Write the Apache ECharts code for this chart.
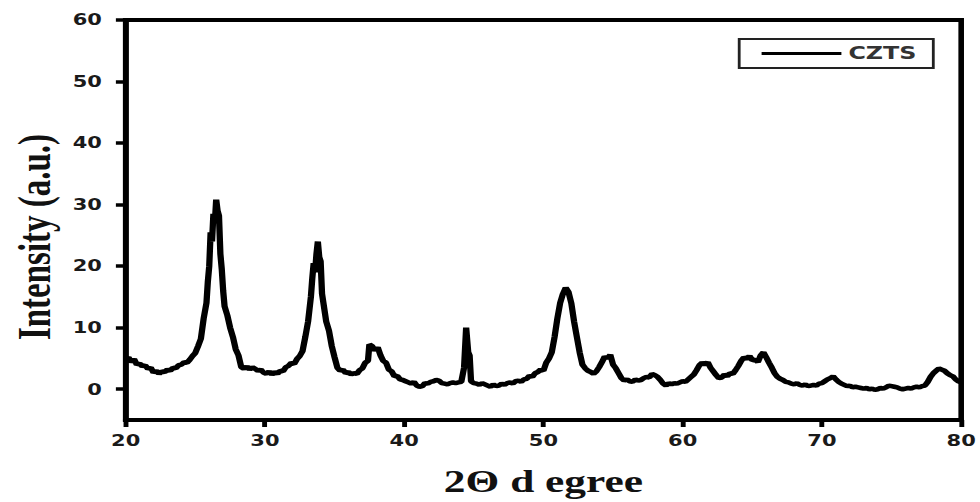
<!DOCTYPE html>
<html>
<head>
<meta charset="utf-8">
<script src="https://cdn.jsdelivr.net/npm/echarts@6/dist/echarts.min.js"></script>
<style>
  html, body { margin: 0; padding: 0; background: #fff; overflow: hidden; }
  #wrap { width: 980px; height: 502px; overflow: hidden; }
  #chart { width: 700px; height: 502px; transform: scaleX(1.4); transform-origin: 0 0; }
</style>
</head>
<body>
<div id="wrap"><div id="chart"></div></div>
<script>
// 2-theta positions (degrees)
const twoTheta = [
  20.0,20.2,20.4,20.6,20.8,21.0,21.2,21.4,21.6,21.8,
  22.0,22.2,22.4,22.6,22.8,23.0,23.2,23.4,23.6,23.8,
  24.0,24.2,24.4,24.6,24.8,25.0,25.2,25.4,25.6,25.8,
  25.9,26.0,26.1,26.2,26.3,26.4,26.5,26.6,26.7,26.8,
  26.9,27.0,27.1,27.3,27.5,27.7,27.9,28.1,28.3,28.5,
  28.7,28.9,29.1,29.3,29.5,29.7,29.9,30.1,30.3,30.5,
  30.7,30.9,31.1,31.3,31.5,31.7,31.9,32.1,32.3,32.5,
  32.7,32.9,33.1,33.3,33.4,33.5,33.6,33.7,33.8,33.9,
  34.0,34.1,34.2,34.4,34.6,34.8,35.0,35.2,35.4,35.6,
  35.8,36.0,36.2,36.4,36.6,36.8,37.0,37.2,37.4,37.5,
  37.7,37.9,38.1,38.3,38.5,38.7,38.9,39.1,39.3,39.5,
  39.7,39.9,40.1,40.3,40.5,40.7,40.9,41.1,41.3,41.5,
  41.7,41.9,42.1,42.3,42.5,42.7,42.9,43.1,43.3,43.5,
  43.7,43.9,44.1,44.3,44.45,44.6,44.7,44.8,45.0,45.2,
  45.4,45.6,45.8,46.0,46.2,46.4,46.6,46.8,47.0,47.2,
  47.4,47.6,47.8,48.0,48.2,48.4,48.6,48.8,49.0,49.2,
  49.4,49.6,49.8,50.0,50.2,50.4,50.6,50.8,51.0,51.2,
  51.4,51.6,51.8,52.0,52.2,52.4,52.6,52.8,53.0,53.2,
  53.4,53.6,53.8,54.0,54.2,54.4,54.6,54.8,55.0,55.2,
  55.4,55.6,55.8,56.0,56.2,56.4,56.6,56.8,57.0,57.2,
  57.4,57.6,57.8,58.0,58.2,58.4,58.6,58.8,59.0,59.2,
  59.4,59.6,59.8,60.0,60.2,60.4,60.6,60.8,61.0,61.2,
  61.4,61.6,61.8,62.0,62.2,62.4,62.6,62.8,63.0,63.2,
  63.4,63.6,63.8,64.0,64.2,64.4,64.6,64.8,65.0,65.2,
  65.4,65.6,65.8,66.0,66.2,66.4,66.6,66.8,67.0,67.2,
  67.4,67.6,67.8,68.0,68.2,68.4,68.6,68.8,69.0,69.2,
  69.4,69.6,69.8,70.0,70.2,70.4,70.6,70.8,71.0,71.2,
  71.4,71.6,71.8,72.0,72.2,72.4,72.6,72.8,73.0,73.2,
  73.4,73.6,73.8,74.0,74.2,74.4,74.6,74.8,75.0,75.2,
  75.4,75.6,75.8,76.0,76.2,76.4,76.6,76.8,77.0,77.2,
  77.4,77.6,77.8,78.0,78.2,78.4,78.6,78.8,79.0,79.2,
  79.4,79.6,79.8,80.0
];
// CZTS intensity (a.u.)
const intensity = [
  4.8,5.2,4.4,4.9,4.0,4.2,3.7,3.9,3.3,3.5,
  2.7,3.0,2.5,2.9,2.8,3.2,3.0,3.5,3.4,3.9,
  4.0,4.4,4.3,4.8,5.4,5.9,7.0,8.2,11.5,14.0,
  17.5,20.0,25.5,24.0,28.5,27.0,30.8,29.0,28.2,22.0,
  19.5,16.0,13.5,12.0,10.0,8.5,6.5,5.5,3.6,3.3,
  3.7,3.2,3.6,3.3,3.0,3.2,2.7,2.5,2.9,2.4,
  2.8,2.5,3.0,2.9,3.6,3.8,4.3,4.1,4.9,5.4,
  6.2,8.5,11.0,15.0,18.0,20.5,19.0,22.0,24.0,21.5,
  20.8,15.5,14.0,11.0,9.5,7.0,5.2,3.5,3.0,3.2,
  2.6,2.8,2.4,2.6,2.5,3.1,3.4,4.3,4.6,7.3,
  7.0,6.3,6.8,5.5,4.6,4.3,3.2,2.9,2.1,2.2,
  1.6,1.5,1.3,1.1,0.9,1.2,0.6,0.4,0.5,1.0,
  0.9,1.2,1.3,1.5,1.4,1.0,0.9,0.8,1.0,1.1,
  1.0,1.1,1.2,3.5,10.0,6.0,5.5,1.3,1.0,0.9,
  0.7,1.0,0.8,0.6,0.4,0.8,0.5,0.6,0.9,0.7,
  1.0,1.1,0.9,1.3,1.4,1.2,1.6,1.7,2.2,2.0,
  2.6,2.8,3.2,3.0,4.3,5.0,6.0,8.5,11.5,14.0,
  15.5,16.5,15.8,14.0,11.0,8.5,6.0,4.0,3.4,3.0,
  2.8,2.5,2.9,3.6,4.4,5.3,5.0,5.6,4.0,3.4,
  2.6,1.8,1.4,1.6,1.3,1.2,1.6,1.4,1.5,1.8,
  2.0,1.9,2.5,2.3,2.0,1.5,0.9,0.6,1.0,0.8,
  1.0,0.9,1.1,1.3,1.2,1.6,2.0,2.4,3.1,3.9,
  4.3,4.0,4.4,3.5,2.9,2.3,1.8,1.9,2.4,2.1,
  2.6,2.5,3.1,3.8,4.6,5.2,4.9,5.4,4.7,4.8,
  4.4,5.5,6.0,5.2,4.3,3.5,2.6,2.0,1.7,1.5,
  1.2,1.1,0.9,0.8,1.0,0.7,0.6,0.8,0.5,0.6,
  0.7,0.6,0.9,1.0,1.3,1.6,1.8,2.1,1.6,1.2,
  0.9,0.7,0.5,0.6,0.3,0.4,0.3,0.2,0.1,0.2,
  0.0,0.1,-0.1,0.0,0.2,0.1,0.3,0.6,0.5,0.4,
  0.3,0.1,0.0,0.1,0.2,0.1,0.3,0.4,0.3,0.5,
  0.6,1.2,2.0,2.6,3.0,3.4,3.2,3.0,2.6,2.3,
  2.1,1.6,1.3,1.1
];
const seriesName = 'CZTS';
const xTicks = [20, 30, 40, 50, 60, 70, 80];
const yTicks = [0, 10, 20, 30, 40, 50, 60];
const xTitle = '2Θ d egree';
const yTitle = 'Intensity (a.u.)';

const chart = echarts.init(document.getElementById('chart'), null, { renderer: 'svg' });
const tickFont = { color: '#1a1a1a', fontFamily: 'DejaVu Sans', fontWeight: 'bold', fontSize: 15 };
chart.setOption({
  animation: false,
  backgroundColor: '#fff',
  grid: {
    left: 87, right: 13, top: 20, bottom: 81,
    show: true, borderColor: '#000', borderWidth: 4, backgroundColor: 'transparent'
  },
  legend: {
    data: [{ name: seriesName, icon: 'rect' }],
    left: 528, top: 39,
    padding: [6, 12, 6, 16],
    borderColor: '#222', borderWidth: 2,
    itemWidth: 57, itemHeight: 3, itemGap: 6,
    itemStyle: { color: '#000' },
    textStyle: { color: '#333', fontFamily: 'DejaVu Sans', fontWeight: 'bold', fontSize: 17, padding: [2, 0, 2, 0] }
  },
  xAxis: {
    type: 'value', min: xTicks[0], max: xTicks[xTicks.length - 1], interval: 10,
    name: xTitle, nameLocation: 'middle', nameGap: 46,
    nameTextStyle: { color: '#111', fontFamily: 'Liberation Serif', fontWeight: 'bold', fontSize: 31 },
    axisLine: { onZero: false, lineStyle: { color: '#000', width: 4 } },
    axisTick: { show: true, length: 7, lineStyle: { color: '#000', width: 3.5 } },
    axisLabel: Object.assign({ margin: 13 }, tickFont),
    splitLine: { show: false }
  },
  yAxis: {
    type: 'value', min: -5, max: 60,
    name: yTitle, nameLocation: 'middle', nameGap: 48, nameRotate: 90,
    nameTextStyle: { color: '#111', fontFamily: 'Liberation Serif', fontWeight: 'bold', fontSize: 33, padding: [0, 34, 0, 0] },
    axisLine: { lineStyle: { color: '#000', width: 4 } },
    axisTick: { show: true, length: 7, customValues: yTicks, lineStyle: { color: '#000', width: 3.5 } },
    axisLabel: Object.assign({ margin: 17, customValues: yTicks }, tickFont),
    splitLine: { show: false }
  },
  series: [{
    name: seriesName,
    type: 'line',
    data: twoTheta.map((t, i) => [t, intensity[i]]),
    symbol: 'none', showSymbol: false,
    lineStyle: { color: '#000', width: 4.5 },
    itemStyle: { color: '#000' }
  }]
});
</script>
</body>
</html>
